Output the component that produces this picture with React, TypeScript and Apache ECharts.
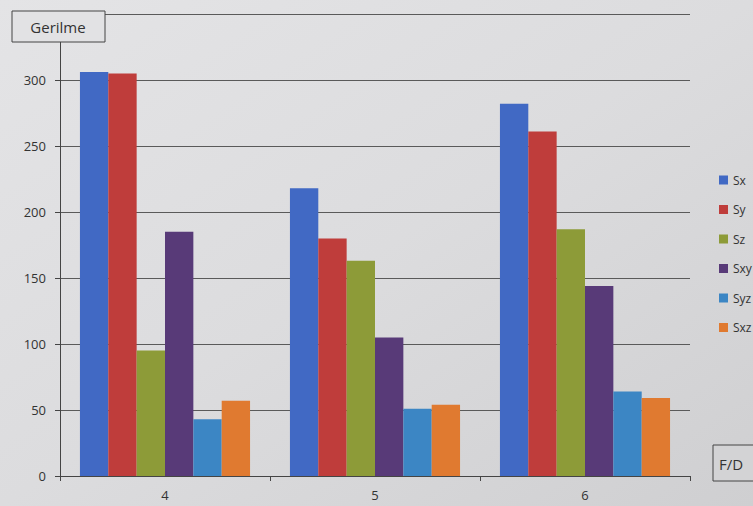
import React, { useEffect, useRef } from "react";
import * as echarts from "echarts";

const categories = ["4", "5", "6"];
const seriesNames = ["Sx", "Sy", "Sz", "Sxy", "Syz", "Sxz"];
const sx = [306, 218, 282];
const sy = [305, 180, 261];
const sz = [95, 163, 187];
const sxy = [185, 105, 144];
const syz = [43, 51, 64];
const sxz = [57, 54, 59];
const yTicks = [0, 50, 100, 150, 200, 250, 300, 350];
const colors = ["#4169c4", "#bf3d3b", "#8d9b38", "#583a78", "#3c86c4", "#e07a30"];

export default function App() {
  const ref = useRef<HTMLDivElement>(null);
  useEffect(() => {
    if (!ref.current) return;
    const chart = echarts.init(ref.current, undefined, { renderer: "svg" });
    const values = [sx, sy, sz, sxy, syz, sxz];
    const font = "Open Sans";
    const maxV = yTicks[yTicks.length - 1];
    chart.setOption({
      animation: false,
      backgroundColor: {
        type: "linear", x: 0, y: 0, x2: 1, y2: 1,
        colorStops: [
          { offset: 0, color: "#e4e4e6" },
          { offset: 0.5, color: "#dcdcde" },
          { offset: 1, color: "#cfcfd1" },
        ],
      },
      textStyle: { fontFamily: font },
      grid: { left: 60, right: 63, top: 14, bottom: 30 },
      legend: {
        orient: "vertical",
        left: 714,
        top: 168,
        itemWidth: 9,
        itemHeight: 9,
        itemGap: 15.5,
        icon: "rect",
        data: seriesNames,
        textStyle: { fontFamily: font, fontSize: 12, color: "#333", lineHeight: 14 },
      },
      xAxis: {
        type: "category",
        data: categories,
        axisLine: { lineStyle: { color: "#444", width: 1 } },
        axisTick: { show: true, length: 5, lineStyle: { color: "#444" } },
        axisLabel: { color: "#333", fontSize: 13, margin: 12, fontFamily: font },
      },
      yAxis: {
        type: "value",
        min: 0,
        max: maxV,
        interval: 50,
        axisLine: { show: true, lineStyle: { color: "#444", width: 1 } },
        axisTick: { show: true, length: 5, lineStyle: { color: "#444" } },
        axisLabel: {
          color: "#333",
          fontSize: 13,
          margin: 14,
          fontFamily: font,
          formatter: (v: number) => (v === maxV ? "" : String(v)),
        },
        splitLine: { lineStyle: { color: "#5a5a5a", width: 1 } },
      },
      series: seriesNames.map((name, i) => ({
        name,
        type: "bar",
        data: values[i],
        barGap: "0%",
        barCategoryGap: "19%",
        itemStyle: { color: colors[i] },
      })),
      graphic: [
        {
          type: "rect",
          z: 100,
          shape: { x: 12, y: 11, width: 93, height: 31 },
          style: { fill: "#e2e2e4", stroke: "#444", lineWidth: 1 },
        },
        {
          type: "text",
          z: 101,
          x: 58,
          y: 27,
          style: { text: "Gerilme", fontFamily: font, fontSize: 15, fill: "#333", textAlign: "center", textVerticalAlign: "middle" },
        },
        {
          type: "rect",
          z: 100,
          shape: { x: 713, y: 445, width: 60, height: 36 },
          style: { fill: "#d3d3d5", stroke: "#444", lineWidth: 1 },
        },
        {
          type: "text",
          z: 101,
          x: 719,
          y: 464,
          style: { text: "F/D", fontFamily: font, fontSize: 15, fill: "#333", textVerticalAlign: "middle" },
        },
      ],
    });
    return () => chart.dispose();
  }, []);
  return (
    <div
      ref={ref}
      style={{ position: "absolute", left: 0, top: 0, width: 753, height: 506 }}
    />
  );
}
